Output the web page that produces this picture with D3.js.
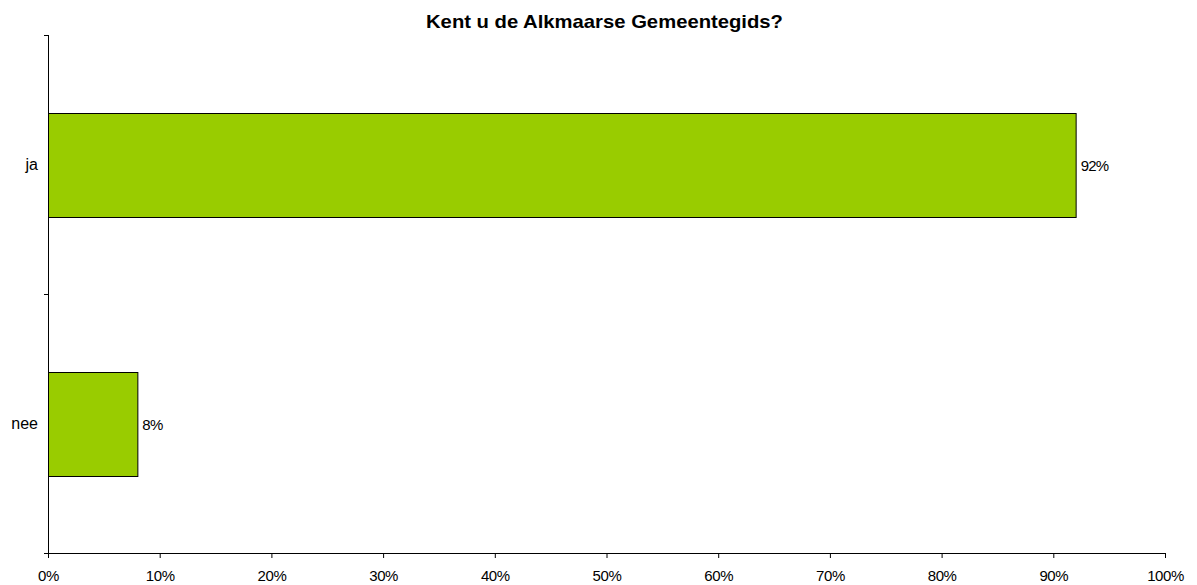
<!DOCTYPE html>
<html><head><meta charset="utf-8">
<script src="https://cdn.jsdelivr.net/npm/d3@7"></script>
<style>body{margin:0;background:#fff}svg{display:block}text{font-family:"Liberation Sans",Arial,sans-serif;fill:#000}</style>
</head><body>
<svg id="c" width="1197" height="585"></svg>
<script>
const title = "Kent u de Alkmaarse Gemeentegids?";
const categories = ["ja", "nee"];
const values = [92, 8];
const valueLabels = ["92%", "8%"];
const xTicks = [0,10,20,30,40,50,60,70,80,90,100];

const svg = d3.select("#c");
const m = {l:48, r:32, t:35, b:32};
const W = 1197, H = 585;
const x = d3.scaleLinear().domain([0,100]).range([m.l, W - m.r]);
const y = d3.scaleBand().domain(categories).range([m.t, H - m.b]).paddingInner(0.6).paddingOuter(0.3);

svg.append("text").attr("x", 604.5).attr("y", 28).attr("text-anchor","middle")
  .attr("textLength", 357).attr("lengthAdjust","spacingAndGlyphs")
  .style("font-size","18.5px").style("font-weight","bold").text(title);

// bars
svg.selectAll("rect.bar").data(categories).join("rect").attr("class","bar")
  .attr("x", x(0) + 0.5).attr("y", d => Math.round(y(d)) + 0.5)
  .attr("width", (d,i) => x(values[i]) - x(0)).attr("height", Math.round(y.bandwidth()))
  .attr("fill","#99CC00").attr("stroke","#000").attr("stroke-width",1);

// value labels
svg.selectAll("text.val").data(categories).join("text").attr("class","val")
  .attr("x", (d,i) => x(values[i]) + 5).attr("y", d => y(d) + y.bandwidth()/2)
  .attr("dy","0.42em").style("font-size","15px").style("letter-spacing","-0.8px")
  .text((d,i) => valueLabels[i]);

// x axis
const xa = svg.append("g").attr("transform",`translate(0,${H - m.b})`)
  .call(d3.axisBottom(x).tickValues(xTicks).tickFormat(d => d + "%").tickSizeOuter(0).tickSize(5).tickPadding(12));
xa.selectAll("text").style("font-size","15px").style("letter-spacing","-0.4px").style("font-family",'"Liberation Sans",Arial,sans-serif');
xa.select(".domain").attr("d", `M${m.l - 4},0.5H${W - m.r}`);
xa.selectAll("path,line").attr("stroke","#000");

// y axis
const ya = svg.append("g").attr("transform",`translate(${m.l},0)`);
ya.append("line").attr("x1",0.5).attr("x2",0.5).attr("y1",m.t).attr("y2",H-m.b).attr("stroke","#000");
const bnd = [y.range()[0], (y("ja") + y.bandwidth() + y("nee"))/2, y.range()[1]];
ya.selectAll("line.tk").data(bnd).join("line").attr("class","tk")
  .attr("x1",-4).attr("x2",0.5).attr("y1",d=>Math.round(d)+0.5).attr("y2",d=>Math.round(d)+0.5).attr("stroke","#000");
ya.selectAll("text.cat").data(categories).join("text").attr("class","cat")
  .attr("x",-10).attr("y", d => y(d) + y.bandwidth()/2).attr("dy","0.37em").attr("text-anchor","end")
  .style("font-size","16px").text(d => d);
</script>
</body></html>
